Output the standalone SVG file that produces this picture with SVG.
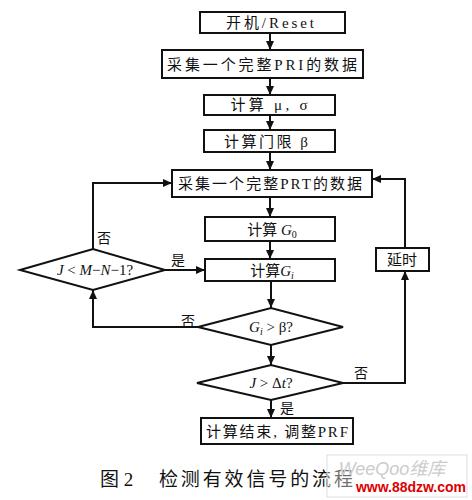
<svg xmlns="http://www.w3.org/2000/svg" width="472" height="500" viewBox="0 0 472 500">
<style>
.box{fill:#fff;stroke:#111;stroke-width:2}
.ln{fill:none;stroke:#111;stroke-width:2}
.t{font-family:"Liberation Serif","Noto Sans CJK SC",serif;font-size:15px;fill:#111;text-anchor:middle}
.lb{font-family:"Liberation Serif","Noto Sans CJK SC",serif;font-size:14px;fill:#111;text-anchor:middle}
.it{font-style:italic}
.cap{font-family:"Liberation Serif","Noto Sans CJK SC",serif;font-size:19px;fill:#111}
</style>
<defs>
<marker id="ar" markerWidth="10" markerHeight="10" refX="9" refY="5" orient="auto" markerUnits="userSpaceOnUse">
<path d="M0,1 L9,5 L0,9 Z" fill="#111"/>
</marker>
</defs>
<rect width="472" height="500" fill="#fff"/>
<g id="connectors">
<line class="ln" x1="270" y1="33" x2="270" y2="50" marker-end="url(#ar)"/>
<line class="ln" x1="270" y1="78" x2="270" y2="95" marker-end="url(#ar)"/>
<line class="ln" x1="270" y1="115" x2="270" y2="130" marker-end="url(#ar)"/>
<line class="ln" x1="270" y1="152" x2="270" y2="170" marker-end="url(#ar)"/>
<line class="ln" x1="270" y1="197" x2="270" y2="217" marker-end="url(#ar)"/>
<line class="ln" x1="270" y1="241" x2="270" y2="259" marker-end="url(#ar)"/>
<line class="ln" x1="271" y1="280" x2="271" y2="308" marker-end="url(#ar)"/>
<line class="ln" x1="271" y1="345" x2="271" y2="365" marker-end="url(#ar)"/>
<line class="ln" x1="271" y1="400" x2="271" y2="418" marker-end="url(#ar)"/>
<line class="ln" x1="165" y1="270" x2="205" y2="270" marker-end="url(#ar)"/>
<polyline class="ln" points="93,249 93,183 172,183" marker-end="url(#ar)"/>
<polyline class="ln" points="198,327 93,327 93,290" marker-end="url(#ar)"/>
<polyline class="ln" points="343,383 405,383 405,271" marker-end="url(#ar)"/>
<polyline class="ln" points="405,248 405,179 372,179" marker-end="url(#ar)"/>
<text class="lb" x="104" y="243">否</text>
<text class="lb" x="178" y="265">是</text>
<text class="lb" x="188" y="326">否</text>
<text class="lb" x="361" y="378">否</text>
<text class="lb" x="287" y="413">是</text>
</g>
<g id="n1"><rect class="box" x="200" y="12" width="145" height="21"/><text class="t" x="270" y="28" textLength="88">开机/Reset</text></g>
<g id="n2"><rect class="box" x="162" y="50" width="201" height="28"/><text class="t" x="262" y="70" textLength="190">采集一个完整PRI的数据</text></g>
<g id="n3"><rect class="box" x="204" y="95" width="131" height="20"/><text class="t" x="269" y="110" textLength="77">计算 μ, σ</text></g>
<g id="n4"><rect class="box" x="204" y="130" width="131" height="22"/><text class="t" x="266" y="147" textLength="84">计算门限 β</text></g>
<g id="n5"><rect class="box" x="172" y="170" width="200" height="27"/><text class="t" x="270" y="189" textLength="184">采集一个完整PRT的数据</text></g>
<g id="n6"><rect class="box" x="205" y="217" width="130" height="24"/><text class="t" x="272" y="235">计算 <tspan class="it">G</tspan><tspan font-size="10" dy="3">0</tspan></text></g>
<g id="n7"><rect class="box" x="205" y="259" width="130" height="22"/><text class="t" x="272" y="276">计算<tspan class="it">G</tspan><tspan class="it" font-size="10" dy="3">i</tspan></text></g>
<g id="n8"><polygon class="box" points="20,270 93,249 165,270 93,290"/><text class="t" x="95" y="275"><tspan class="it">J</tspan> &lt; <tspan class="it">M</tspan>−<tspan class="it">N</tspan>−1?</text></g>
<g id="n9"><rect class="box" x="376" y="248" width="53" height="23"/><text class="t" x="402" y="265">延时</text></g>
<g id="n10"><polygon class="box" points="198,327 271,308 343,327 271,345"/><text class="t" x="271" y="332"><tspan class="it">G</tspan><tspan class="it" font-size="10" dy="3">i</tspan><tspan dy="-3"> &gt; β?</tspan></text></g>
<g id="n11"><polygon class="box" points="197,383 271,365 343,383 271,400"/><text class="t" x="271" y="388"><tspan class="it">J</tspan> &gt; Δ<tspan class="it">t</tspan>?</text></g>
<g id="n12"><rect class="box" x="201" y="418" width="152" height="26"/><text class="t" x="277" y="437" textLength="142">计算结束, 调整PRF</text></g>
<g id="caption">
<text class="cap" x="100" y="486">图 2</text>
<text class="cap" x="159" y="486" textLength="194">检测有效信号的流程</text>
</g>
<g id="watermark">
<rect x="327" y="455" width="140" height="42" fill="#fff" fill-opacity="0.4" stroke="#ddd" stroke-width="1"/>
<text x="392" y="475" font-family="Liberation Sans,'Noto Sans CJK SC',sans-serif" font-size="18" font-style="italic" fill="#ccc" text-anchor="middle">WeeQoo维库</text>
<text x="411" y="492" font-family="Liberation Sans,sans-serif" font-size="14" font-weight="bold" fill="#d00" text-anchor="middle" textLength="110">www.88dzw.com</text>
</g>
</svg>
